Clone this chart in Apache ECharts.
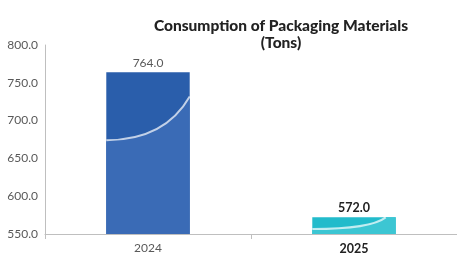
<!DOCTYPE html>
<html><head><meta charset="utf-8">
<script src="https://cdn.jsdelivr.net/npm/echarts@6/dist/echarts.min.js"></script>
<style>html,body{margin:0;padding:0;background:#fff}#c{width:457px;height:255px}</style>
</head><body><div id="c"></div>
<script>
const categories = ['2024', '2025'];
const values = [764.0, 572.0];
const barColors = ['#2A5EAB', '#22BBCB'];
const texColors = ['#3A6BB6', '#3CC6D3'];

const chart = echarts.init(document.getElementById('c'));
const font = 'Lato, "Open Sans", sans-serif';
chart.setOption({
  animation: false,
  title: {
    text: 'Consumption of Packaging Materials\n(Tons)',
    left: 276, textAlign: 'center', top: 12,
    textStyle: { fontFamily: font, fontSize: 15.5, fontWeight: 900, color: '#222', lineHeight: 17 }
  },
  grid: { left: 45, top: 45, width: 416, height: 190 },
  xAxis: {
    type: 'category', data: categories,
    axisLine: { lineStyle: { color: '#BFBFBF' } },
    axisTick: { show: true, length: 5, lineStyle: { color: '#BFBFBF' } },
    axisLabel: {
      margin: 8, fontFamily: font, fontSize: 12, color: '#595959',
      formatter: function (v) { return v === '2025' ? '{b|' + v + '}' : v; },
      rich: { b: { fontWeight: 'bold', color: '#222', fontFamily: font, fontSize: 12.5 } }
    }
  },
  yAxis: {
    type: 'value', min: 550, max: 800, interval: 50,
    axisLine: { show: true, lineStyle: { color: '#BFBFBF' } },
    axisTick: { show: false },
    splitLine: { show: false },
    axisLabel: { fontFamily: font, fontSize: 12, color: '#595959', margin: 7,
      formatter: v => v.toFixed(1) }
  },
  series: [{
    type: 'custom',
    data: values.map((v, i) => [i, v]),
    renderItem: function (params, api) {
      const i = api.value(0);
      const top = api.coord([i, api.value(1)]);
      const base = api.coord([i, 550]);
      const bw = api.size([1, 0])[0] * 0.405;
      const x0 = top[0] - bw / 2, x1 = top[0] + bw / 2;
      const y0 = top[1], h = base[1] - top[1];
      const small = h < 40;
      const yl = y0 + h * (small ? 0.7 : 0.42);
      const yr = y0 + h * (small ? 0.0 : 0.15);
      const xr = small ? x0 + bw * 0.88 : x1;
      const cx = x0 + bw * 0.7, cy = yl;
      const lbl = small;
      return {
        type: 'group',
        children: [
          { type: 'rect', shape: { x: x0, y: y0, width: bw, height: h }, style: { fill: barColors[i] } },
          { type: 'path', shape: { pathData: `M${x0} ${yl} Q${cx} ${cy} ${xr} ${yr} L${x1} ${yr} L${x1} ${base[1]} L${x0} ${base[1]} Z` },
            style: { fill: texColors[i] } },
          { type: 'path', shape: { pathData: `M${x0} ${yl} Q${cx} ${cy} ${xr} ${yr}` },
            style: { fill: null, stroke: 'rgba(255,255,255,0.7)', lineWidth: 2 } },
          { type: 'text', x: top[0], y: y0 - 3,
            style: { text: api.value(1).toFixed(1), textAlign: 'center', textVerticalAlign: 'bottom',
              fontFamily: font, fontSize: lbl ? 12.5 : 12, fontWeight: lbl ? 'bold' : 'normal', fill: lbl ? '#222' : '#595959' } }
        ]
      };
    }
  }]
});
</script></body></html>
